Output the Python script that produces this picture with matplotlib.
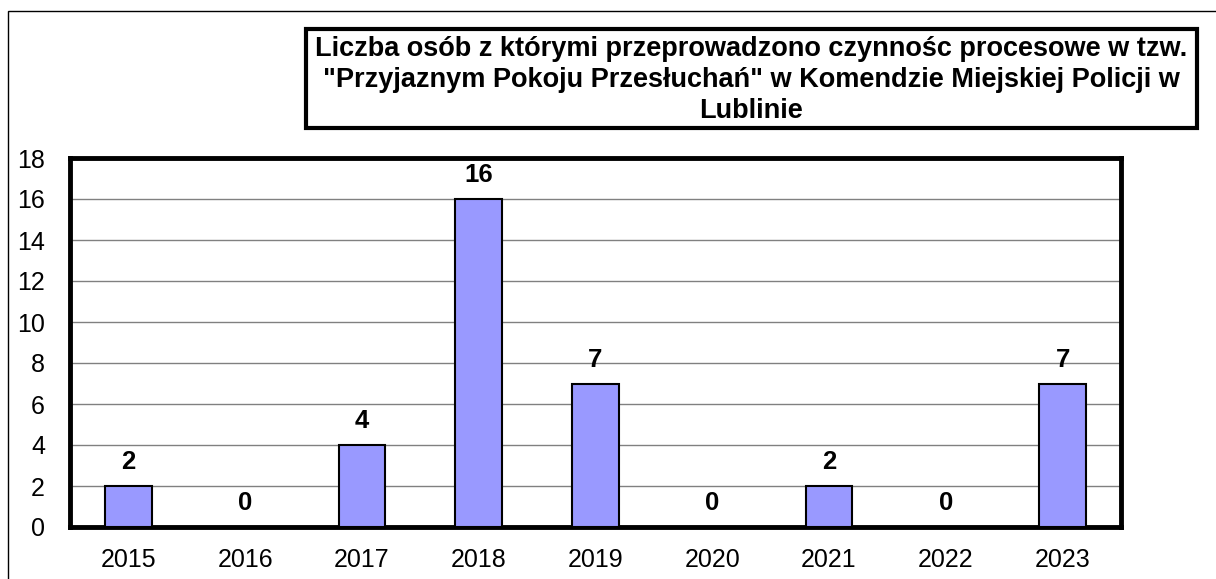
# Bar chart: people interviewed in the "Friendly Interview Room", KMP Lublin
import matplotlib.pyplot as plt
from matplotlib.patches import Rectangle

# Data
years = ['2015', '2016', '2017', '2018', '2019', '2020', '2021', '2022', '2023']
counts = [2, 0, 4, 16, 7, 0, 2, 0, 7]
y_ticks = [0, 2, 4, 6, 8, 10, 12, 14, 16, 18]
title = ('Liczba osób z którymi przeprowadzono czynnośc procesowe w tzw.\n'
         '"Przyjaznym Pokoju Przesłuchań" w Komendzie Miejskiej Policji w\n'
         'Lublinie')

plt.rcParams['font.family'] = ['Liberation Sans', 'DejaVu Sans']

W, H = 1216, 579
fig = plt.figure(figsize=(W / 100, H / 100), dpi=100)

# plot area in pixels: left 70, right 1121, top 158, bottom 527
ax = fig.add_axes([70 / W, 1 - 527 / H, (1121 - 70) / W, (527 - 158) / H])

x = range(len(years))
bars = ax.bar(x, counts, width=0.4, color='#9999ff', edgecolor='black',
              linewidth=1.5, zorder=3)

for xi, v in zip(x, counts):
    ax.annotate(str(v), (xi, v), xytext=(0, 8.5), textcoords='offset points',
                ha='center', va='bottom', fontsize=18.5, fontweight='bold')

ax.set_xlim(-0.5, len(years) - 0.5)
ax.set_ylim(0, 18)
ax.set_yticks(y_ticks)
ax.set_xticks(list(x))
ax.set_xticklabels(years)
ax.tick_params(axis='both', length=0, labelsize=18)
ax.tick_params(axis='y', pad=18)
ax.tick_params(axis='x', pad=15)
ax.grid(axis='y', color='#808080', linewidth=1, zorder=0)
for s in ax.spines.values():
    s.set_linewidth(3.5)

# outer frame (cut by the image on right and bottom)
fig.patches.append(Rectangle((8 / W, -0.1), 1.2, 1 - 11 / H + 0.1,
                             transform=fig.transFigure, fill=False,
                             edgecolor='black', linewidth=1))

# title box
fig.patches.append(Rectangle((306 / W, 1 - 128 / H), (1197 - 306) / W, 99 / H,
                             transform=fig.transFigure, fill=False,
                             edgecolor='black', linewidth=3))
fig.text(751 / W, 1 - 80 / H, title, ha='center', va='center',
         fontsize=19.5, fontweight='bold', linespacing=1.25)

fig.savefig('out.png', dpi=100)
